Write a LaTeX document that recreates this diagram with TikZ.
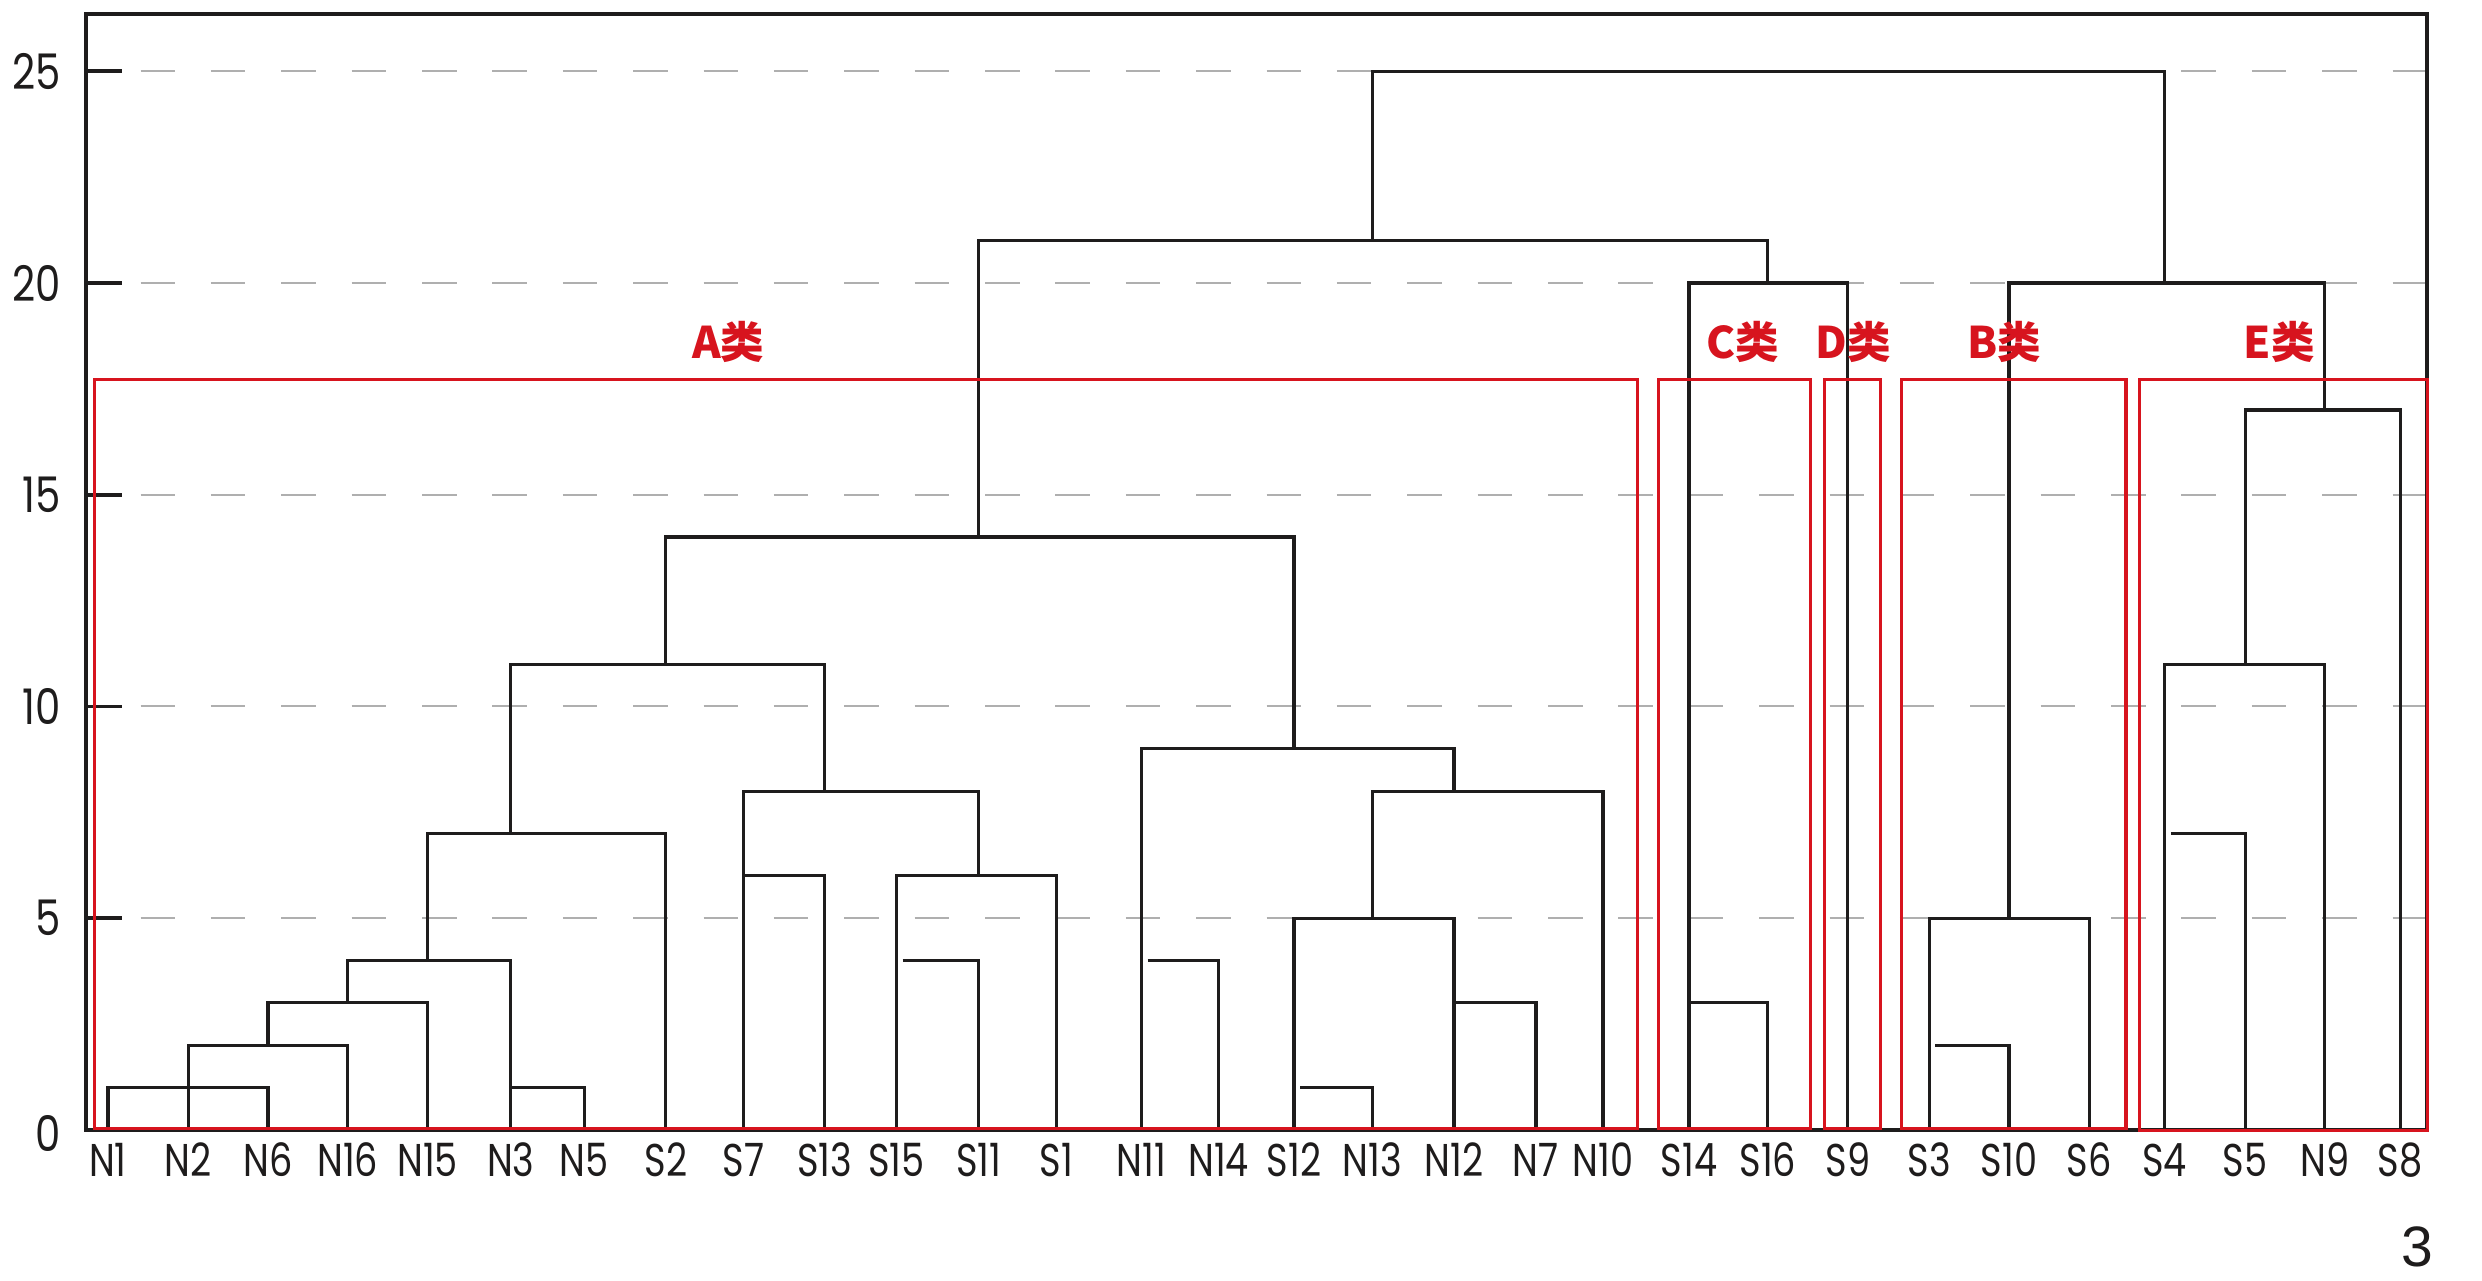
\documentclass[tikz,border=0pt]{standalone}
\usepackage{fontspec}
\newfontfamily\labfont[FakeStretch=0.8]{Poppins}
\newfontfamily\tickfont[FakeStretch=0.82]{Poppins}
\newfontfamily\cjkfont{Noto Sans CJK SC}
\newfontfamily\numfont{Liberation Sans}
\definecolor{clred}{RGB}{215,20,30}
\definecolor{ink}{RGB}{30,28,28}
\definecolor{gridgray}{RGB}{175,175,175}
\begin{document}
\begin{tikzpicture}[x=1pt,y=1pt,
  den/.style={draw=ink, line width=2pt},
  axisframe/.style={draw=ink, line width=2.3pt},
  axtick/.style={draw=ink, line width=2.3pt},
  gridline/.style={draw=gridgray, line width=1.3pt, dash pattern=on 21.8pt off 22.66pt},
  cbox/.style={draw=clred, line width=2pt},
  clab/.style={text=clred, font=\cjkfont\bfseries\fontsize{27.5}{27.5}\selectfont, inner sep=0pt},
  leaf/.style={font=\labfont\fontsize{29}{29}\selectfont, inner sep=0pt, anchor=base, text=ink},
  ticklab/.style={font=\tickfont\fontsize{31}{31}\selectfont, inner sep=0pt, anchor=east, text=ink},
]
\fill[white] (0,-95.2) rectangle (1568,713.8);
\useasboundingbox (0,-95.2) rectangle (1568,713.8);

% height levels
\foreach \v in {1,...,25} \coordinate (h\v) at (0,\v*26.75);

% grid, ticks, tick labels
\foreach \v in {5,10,...,25} {
  \draw[gridline] (88.8,\v*26.75) -- (1533.4,\v*26.75);
  \draw[axtick] (54.4,\v*26.75) -- (76.9,\v*26.75);
  \node[ticklab] (tl\v) at (38.5,\v*26.75) {\v};
}
\node[ticklab] (tl0) at (38.5,-2) {0};

% axis frame
\coordinate (O) at (54.4,0);
\coordinate (TR) at (1533.4,705);
\draw[axisframe] (O) rectangle (TR);

% leaves
\foreach \n/\x in {N1/68.2, N2/118.9, N6/169.3, N16/219.7, N15/270.1, N3/322.7, N5/369.1, S2/420.6,
  S7/469.6, S13/521.1, S15/566.3, S11/618.4, S1/667.4, N11/721, N14/769.8, S12/817.5, N13/866.9,
  N12/918.6, N7/970.3, N10/1012.7, S14/1067, S16/1116.8, S9/1167.4, S3/1218.7, S10/1269.2,
  S6/1319.9, S4/1367.5, S5/1418.4, N9/1468.7, S8/1516.3} {
  \coordinate (\n) at (\x,0);
  \node[leaf] (l\n) at (\x,-29.5) {\n};
}

% dendrogram: A
\draw[den] (N1) |- (N6 |- h1) -- (N6);
\draw[den] (N2) |- (N16 |- h2) -- (N16);
\draw[den] (N6 |- h2) |- (N15 |- h3) -- (N15);
\draw[den] (N16 |- h3) |- (N3 |- h4) -- (N3);
\draw[den] (N3 |- h1) -| (N5);
\draw[den] (N15 |- h4) |- (S2 |- h7) -- (S2);
\draw[den] (N3 |- h7) |- (S13 |- h11) -- (S13 |- h8);
\draw[den] (S7) |- (S11 |- h8) -- (S11 |- h6);
\draw[den] (S7 |- h6) -| (S13);
\draw[den] (S15) |- (S1 |- h6) -- (S1);
\draw[den] (S15 |- h4) ++(4,0) -| (S11);
\draw[den] (S2 |- h11) |- (S12 |- h14) -- (S12 |- h9);
\draw[den] (N11) |- (N12 |- h9) -- (N12 |- h8);
\draw[den] (N11 |- h4) ++(4,0) -| (N14);
\draw[den] (N13 |- h5) |- (N10 |- h8) -- (N10);
\draw[den] (S12) |- (N12 |- h5) -- (N12);
\draw[den] (S12 |- h1) ++(4,0) -| (N13);
\draw[den] (N12 |- h3) -| (N7);
% top
\draw[den] (S11 |- h14) |- (S16 |- h21) -- (S16 |- h20);
\draw[den] (N13 |- h21) |- (S4 |- h25) -- (S4 |- h20);
% C, D
\draw[den] (S14) |- (S9 |- h20) -- (S9);
\draw[den] (S14 |- h3) -| (S16);
% B
\draw[den] (S3) |- (S6 |- h5) -- (S6);
\draw[den] (S3 |- h2) ++(4,0) -| (S10);
\draw[den] (S10 |- h5) |- (N9 |- h20) -- (N9 |- h17);
% E
\draw[den] (S5 |- h11) |- (S8 |- h17) -- (S8);
\draw[den] (S4) |- (N9 |- h11) -- (N9);
\draw[den] (S4 |- h7) ++(4,0) -| (S5);

% class boxes
\draw[cbox] (59.8,0.8) rectangle (1034.6,474.2);
\draw[cbox] (1047.8,0.8) rectangle (1144,474.2);
\draw[cbox] (1152.6,0.8) rectangle (1188.2,474.2);
\draw[cbox] (1201.4,0.8) rectangle (1343.1,474.2);
\draw[cbox] (1351.6,-0.3) rectangle (1533.4,474.2);

\node[clab] (labA) at (460,497.8) {A类};
\node[clab] (labC) at (1101,497.8) {C类};
\node[clab] (labD) at (1171,497.8) {D类};
\node[clab] (labB) at (1266,497.8) {B类};
\node[clab] (labE) at (1440,497.8) {E类};

\node[font=\numfont\fontsize{36}{36}\selectfont, inner sep=0pt, text=ink] (pg) at (1527,-74.2) {3};
\end{tikzpicture}
\end{document}
